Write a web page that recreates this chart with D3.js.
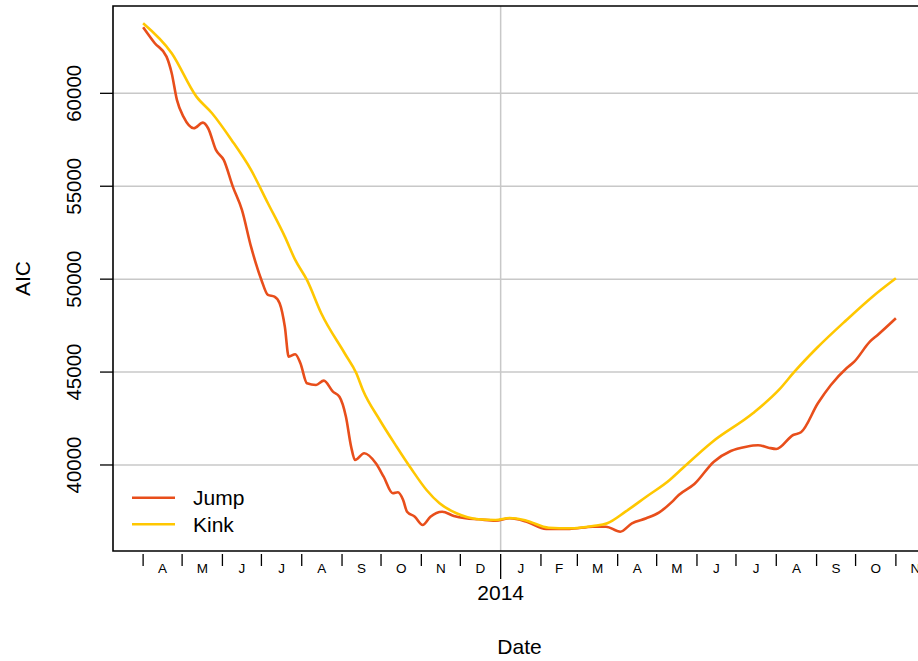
<!DOCTYPE html>
<html>
<head>
<meta charset="utf-8">
<script src="https://cdn.jsdelivr.net/npm/d3@7"></script>
<style>
  body { margin: 0; background: #fff; }
  svg { display: block; font-family: "Liberation Sans", Arial, sans-serif; }
</style>
</head>
<body>
<div class="chart"></div>
<script>
// AIC per window end date
var jumpDates = ["2013-04-01","2013-04-10","2013-04-19","2013-04-23","2013-04-27","2013-05-02","2013-05-10","2013-05-17","2013-05-21","2013-05-27",
  "2013-06-02","2013-06-09","2013-06-16","2013-06-23","2013-07-01","2013-07-06","2013-07-11","2013-07-15","2013-07-19","2013-07-22",
  "2013-07-27","2013-07-31","2013-08-05","2013-08-12","2013-08-18","2013-08-25","2013-08-30","2013-09-04","2013-09-08","2013-09-11",
  "2013-09-18","2013-09-27","2013-10-03","2013-10-10","2013-10-14","2013-10-18","2013-10-21","2013-10-27","2013-11-02","2013-11-08",
  "2013-11-17","2013-11-26","2013-12-05","2013-12-15","2013-12-28","2014-01-08","2014-01-21","2014-02-05","2014-02-23","2014-03-13",
  "2014-03-23","2014-04-03","2014-04-12","2014-04-23","2014-05-03","2014-05-13","2014-05-18","2014-05-30","2014-06-14","2014-06-27",
  "2014-07-09","2014-07-18","2014-07-26","2014-08-01","2014-08-14","2014-08-20","2014-09-02","2014-09-12","2014-09-24","2014-09-30",
  "2014-10-12","2014-10-18","2014-11-01"];
var jumpValues = [63557,62696,61975,61081,59644,58745,58121,58423,58121,56953,
  56415,54978,53724,51749,49957,49149,49058,48703,47443,45829,
  45958,45474,44397,44306,44537,43945,43676,42600,40985,40269,
  40630,40091,39370,38477,38531,38116,37487,37217,36771,37217,
  37487,37255,37131,37078,37002,37131,36948,36556,36556,36679,
  36679,36410,36862,37131,37454,38025,38385,38977,40178,40753,
  40985,41060,40931,40861,41615,41760,43321,44306,45204,45560,
  46636,46997,47895];

var kinkDates = ["2013-04-01","2013-04-23","2013-05-12","2013-05-24","2013-06-08","2013-06-23","2013-07-06","2013-07-19","2013-07-27","2013-08-05",
  "2013-08-16","2013-09-03","2013-09-12","2013-09-17","2013-09-30","2013-10-13","2013-10-24","2013-11-05","2013-11-15","2013-11-28",
  "2013-12-15","2013-12-28","2014-01-08","2014-01-21","2014-02-07","2014-02-23","2014-03-13","2014-03-24","2014-04-07","2014-04-23",
  "2014-05-11","2014-05-18","2014-06-13","2014-07-14","2014-08-03","2014-08-15","2014-09-01","2014-09-24","2014-10-14","2014-11-01"];
var kinkValues = [63772,62158,59822,58928,57492,55877,54085,52287,51033,49957,
  48164,46012,44935,44037,42422,40985,39822,38655,37939,37400,
  37078,37040,37148,37002,36625,36593,36717,36862,37487,38294,
  39193,39639,41254,42782,44037,45021,46281,47804,49058,50048];

var seriesNames = ["Jump", "Kink"];
var seriesColors = ["#E84E1B", "#FFC700"];
var yTicks = [40000, 45000, 50000, 55000, 60000];
var monthLabels = ["J","F","M","A","M","J","J","A","S","O","N","D"];

var baseWidth = 918, baseHeight = 661;
var margin = { top: 6, left: 113, bottom: 110 },
  plotRight = 926,
  height = baseHeight - margin.top - margin.bottom;

var parse = d3.utcParse("%Y-%m-%d");
var jump = jumpDates.map(function(d, i) { return { date: parse(d), value: jumpValues[i] }; });
var kink = kinkDates.map(function(d, i) { return { date: parse(d), value: kinkValues[i] }; });

// R style: 4% padding around the data range
var xExt = d3.extent(jump.concat(kink), function(d) { return d.date; });
var pad = (xExt[1] - xExt[0]) * 0.04;
var xScale = d3.scaleUtc()
  .domain([new Date(+xExt[0] - pad), new Date(+xExt[1] + pad)])
  .range([margin.left, plotRight]);

var yScale = d3.scaleLinear()
  .domain([35371, 64699])
  .range([margin.top + height, margin.top]);

var svg = d3.select(".chart")
  .append("svg")
  .attr("width", baseWidth)
  .attr("height", baseHeight);

var bottom = margin.top + height;

// grid
svg.append("g")
  .selectAll("line")
  .data(yTicks)
  .enter()
  .append("line")
  .attr("x1", margin.left)
  .attr("x2", plotRight)
  .attr("y1", function(d) { return yScale(d); })
  .attr("y2", function(d) { return yScale(d); })
  .attr("stroke", "#c8c8c8")
  .attr("stroke-width", 1.5);

var years = d3.utcYear.range(xExt[0], xExt[1]);
svg.append("g")
  .selectAll("line")
  .data(years)
  .enter()
  .append("line")
  .attr("x1", function(d) { return xScale(d); })
  .attr("x2", function(d) { return xScale(d); })
  .attr("y1", margin.top)
  .attr("y2", bottom)
  .attr("stroke", "#c8c8c8")
  .attr("stroke-width", 1.5);

// series
var line = d3.line()
  .x(function(d) { return xScale(d.date); })
  .y(function(d) { return yScale(d.value); })
  .curve(d3.curveMonotoneX);

[jump, kink].forEach(function(s, i) {
  svg.append("path")
    .datum(s)
    .attr("fill", "none")
    .attr("stroke", seriesColors[i])
    .attr("stroke-width", 2.6)
    .attr("stroke-linejoin", "round")
    .attr("d", line);
});

// box (top, left, bottom)
svg.append("path")
  .attr("d", "M" + (plotRight + 2) + "," + margin.top + "H" + margin.left + "V" + bottom + "H" + (plotRight + 2))
  .attr("fill", "none")
  .attr("stroke", "#000")
  .attr("stroke-width", 1.6);

// y axis
var yAxis = svg.append("g")
  .attr("transform", "translate(" + margin.left + ",0)");
yAxis.selectAll("line")
  .data(yTicks)
  .enter()
  .append("line")
  .attr("x1", -13)
  .attr("x2", 0)
  .attr("y1", function(d) { return yScale(d); })
  .attr("y2", function(d) { return yScale(d); })
  .attr("stroke", "#000")
  .attr("stroke-width", 1.3);
yAxis.selectAll("text")
  .data(yTicks)
  .enter()
  .append("text")
  .attr("transform", function(d) { return "translate(-32," + yScale(d) + ") rotate(-90)"; })
  .attr("text-anchor", "middle")
  .attr("font-size", 20.5)
  .attr("fill", "#000")
  .text(function(d) { return d; });

// x axis: month ticks, year ticks, labels mid-month
var months = d3.utcMonth.range(xExt[0], d3.utcDay.offset(xExt[1], 1));
var xAxis = svg.append("g")
  .attr("transform", "translate(0," + bottom + ")");
xAxis.selectAll("line")
  .data(months)
  .enter()
  .append("line")
  .attr("x1", function(d) { return xScale(d); })
  .attr("x2", function(d) { return xScale(d); })
  .attr("y1", 3)
  .attr("y2", function(d) { return d.getUTCMonth() === 0 ? 28 : 15; })
  .attr("stroke", "#000")
  .attr("stroke-width", 1.3);
xAxis.selectAll("text.month")
  .data(months)
  .enter()
  .append("text")
  .attr("class", "month")
  .attr("x", function(d) { return (xScale(d) + xScale(d3.utcMonth.offset(d, 1))) / 2; })
  .attr("y", 21.5)
  .attr("text-anchor", "middle")
  .attr("font-size", 13.5)
  .attr("fill", "#000")
  .text(function(d) { return monthLabels[d.getUTCMonth()]; });
xAxis.selectAll("text.year")
  .data(years)
  .enter()
  .append("text")
  .attr("class", "year")
  .attr("x", function(d) { return xScale(d); })
  .attr("y", 49)
  .attr("text-anchor", "middle")
  .attr("font-size", 21)
  .attr("fill", "#000")
  .text(function(d) { return d.getUTCFullYear(); });

// axis titles
svg.append("text")
  .attr("x", (margin.left + plotRight) / 2)
  .attr("y", 654)
  .attr("text-anchor", "middle")
  .attr("font-size", 21)
  .text("Date");
svg.append("text")
  .attr("transform", "translate(30," + (margin.top + height / 2) + ") rotate(-90)")
  .attr("text-anchor", "middle")
  .attr("font-size", 21)
  .text("AIC");

// legend
var legend = svg.append("g");
seriesNames.forEach(function(name, i) {
  var ly = 497.7 + i * 26.6;
  legend.append("line")
    .attr("x1", 132)
    .attr("x2", 175)
    .attr("y1", ly)
    .attr("y2", ly)
    .attr("stroke", seriesColors[i])
    .attr("stroke-width", 2.6);
  legend.append("text")
    .attr("x", 193)
    .attr("y", ly + 7.5)
    .attr("font-size", 21)
    .text(name);
});
</script>
</body>
</html>
